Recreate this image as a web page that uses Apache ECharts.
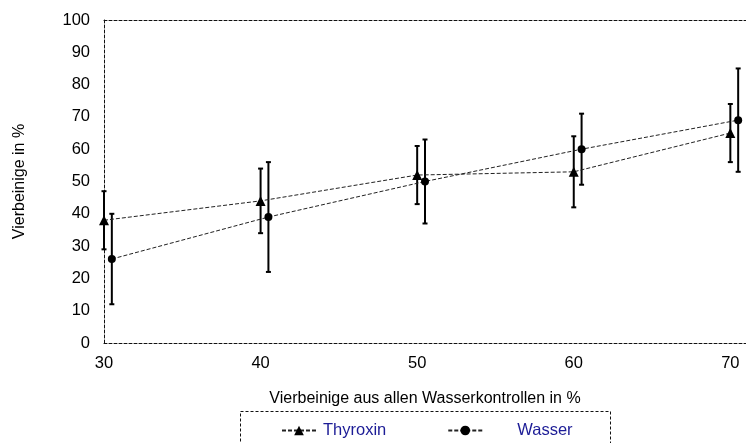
<!DOCTYPE html>
<html>
<head>
<meta charset="utf-8">
<script src="https://cdn.jsdelivr.net/npm/echarts@6/dist/echarts.min.js"></script>
<style>
  html, body { margin: 0; padding: 0; background: #fff; }
  #chart { width: 746px; height: 443px; }
</style>
</head>
<body>
<div id="chart"></div>
<script>
// x-Werte (Vierbeinige aus allen Wasserkontrollen in %)
var xValues = [30, 40, 50, 60, 70];
// Thyroxin: Mittelwert und Fehler
var thyroxinMean = [38, 44, 52, 53, 65];
var thyroxinErr = [9, 10, 9, 11, 9];
// Wasser: Mittelwert und Fehler
var wasserMean = [26, 39, 50, 60, 69];
var wasserErr = [14, 17, 13, 11, 16];
// Wasser-Punkte leicht nach rechts versetzt
var wasserShift = 0.5;

var FONT = 'Liberation Sans, Arial, sans-serif';

function points(shift, mean) {
  var out = [];
  for (var i = 0; i < xValues.length; i++) {
    out.push([xValues[i] + shift, mean[i]]);
  }
  return out;
}

function errorData(shift, mean, err) {
  var out = [];
  for (var i = 0; i < xValues.length; i++) {
    out.push([xValues[i] + shift, mean[i] - err[i], mean[i] + err[i]]);
  }
  return out;
}

function renderError(params, api) {
  var x = api.value(0);
  var lo = api.coord([x, api.value(1)]);
  var hi = api.coord([x, api.value(2)]);
  var cap = 2.5;
  var style = { stroke: '#000', lineWidth: 2 };
  return {
    type: 'group',
    children: [
      { type: 'line', shape: { x1: lo[0], y1: lo[1], x2: hi[0], y2: hi[1] }, style: style },
      { type: 'line', shape: { x1: lo[0] - cap, y1: lo[1], x2: lo[0] + cap, y2: lo[1] }, style: style },
      { type: 'line', shape: { x1: hi[0] - cap, y1: hi[1], x2: hi[0] + cap, y2: hi[1] }, style: style }
    ]
  };
}

var chart = echarts.init(document.getElementById('chart'));

var dashBox = { color: '#111', width: 1, type: [3, 2] };

var option = {
  animation: false,
  backgroundColor: '#fff',
  textStyle: { fontFamily: FONT },
  grid: { left: 104, right: 0, top: 20, bottom: 100, containLabel: false, outerBoundsMode: 'none' },
  xAxis: [{
    type: 'value',
    min: 30,
    max: 71,
    interval: 10,
    name: 'Vierbeinige aus allen Wasserkontrollen in %',
    nameLocation: 'middle',
    nameGap: 48,
    nameTextStyle: { fontSize: 16, color: '#000', fontFamily: FONT },
    axisLine: { show: true, lineStyle: dashBox },
    axisTick: { show: false },
    splitLine: { show: false },
    axisLabel: {
      fontSize: 16.5, color: '#000', fontFamily: FONT, margin: 12,
      formatter: function (v) { return v % 10 === 0 ? String(v) : ''; }
    }
  }, {
    type: 'value',
    position: 'top',
    min: 30,
    max: 71,
    axisLine: { show: true, lineStyle: dashBox },
    axisTick: { show: false },
    axisLabel: { show: false },
    splitLine: { show: false }
  }],
  yAxis: {
    type: 'value',
    min: 0,
    max: 100,
    interval: 10,
    name: 'Vierbeinige in %',
    nameLocation: 'middle',
    nameGap: 76,
    nameTextStyle: { fontSize: 16, color: '#000', fontFamily: FONT },
    axisLine: { show: true, lineStyle: dashBox },
    axisTick: { show: false },
    splitLine: { show: false },
    axisLabel: { fontSize: 16.5, color: '#000', fontFamily: FONT, margin: 14 }
  },
  legend: {
    left: 276,
    top: 417,
    itemWidth: 34,
    itemHeight: 12,
    itemGap: 61,
    textStyle: { fontSize: 16.5, color: '#1c1c96', fontFamily: FONT, padding: [0, 0, 0, 2] },
    data: [
      { name: 'Thyroxin' },
      { name: 'Wasser', textStyle: { padding: [0, 0, 0, 30] } }
    ]
  },
  graphic: [{
    type: 'rect',
    shape: { x: 240.5, y: 411.5, width: 370, height: 40 },
    style: { fill: 'none', stroke: '#111', lineWidth: 1, lineDash: [3, 2] },
    silent: true
  }],
  series: [{
    name: 'Thyroxin',
    type: 'line',
    data: points(0, thyroxinMean),
    symbol: 'triangle',
    symbolSize: 10,
    itemStyle: { color: '#000' },
    lineStyle: { color: '#222', width: 1, type: [4, 2] },
    z: 5
  }, {
    name: 'Wasser',
    type: 'line',
    data: points(wasserShift, wasserMean),
    symbol: 'circle',
    symbolSize: 8,
    itemStyle: { color: '#000' },
    lineStyle: { color: '#222', width: 1, type: [4, 2] },
    z: 5
  }, {
    name: 'Thyroxin Fehler',
    type: 'custom',
    renderItem: renderError,
    data: errorData(0, thyroxinMean, thyroxinErr),
    encode: { x: 0, y: [1, 2] },
    z: 3
  }, {
    name: 'Wasser Fehler',
    type: 'custom',
    renderItem: renderError,
    data: errorData(wasserShift, wasserMean, wasserErr),
    encode: { x: 0, y: [1, 2] },
    z: 3
  }]
};

chart.setOption(option);
</script>
</body>
</html>
